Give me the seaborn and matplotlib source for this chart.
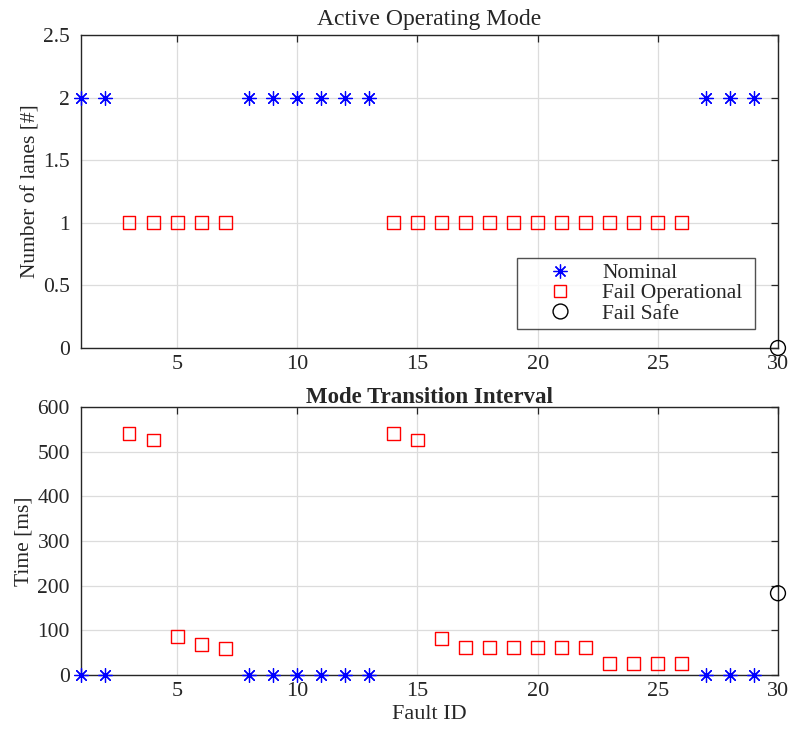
import matplotlib
matplotlib.use("Agg")
import matplotlib.pyplot as plt
from matplotlib.lines import Line2D
import seaborn as sns
import pandas as pd

# Fault IDs grouped by the operating mode reached after each fault
nominal_ids = [1, 2, 8, 9, 10, 11, 12, 13, 27, 28, 29]
failop_ids = [3, 4, 5, 6, 7, 14, 15, 16, 17, 18, 19, 20, 21, 22, 23, 24, 25, 26]
failsafe_ids = [30]

# Number of active lanes per mode
nominal_lanes = [2] * len(nominal_ids)
failop_lanes = [1] * len(failop_ids)
failsafe_lanes = [0]

# Mode transition interval [ms]
nominal_time = [0] * len(nominal_ids)
failop_time = [541, 526, 87, 68, 59, 541, 526, 82, 61, 61, 61, 61, 61, 61, 25, 25, 25, 25]
failsafe_time = [183]

legend_labels = ["Nominal", "Fail Operational", "Fail Safe"]

sns.set_style("white")
plt.rcParams["font.family"] = ["Liberation Serif", "DejaVu Serif"]
plt.rcParams["font.size"] = 15

fig = plt.figure(figsize=(7.92, 7.36), dpi=100)
ax1 = fig.add_axes([0.1023, 0.5272, 0.880, 0.4253])
ax2 = fig.add_axes([0.1023, 0.0829, 0.880, 0.3641])

ast = (8, 2, 0)
BLUE = "#0000ff"
RED = "#ff0000"


def draw(ax, yn, yf, ys):
    d_n = pd.DataFrame({"id": nominal_ids, "v": yn})
    d_f = pd.DataFrame({"id": failop_ids, "v": yf})
    d_s = pd.DataFrame({"id": failsafe_ids, "v": ys})
    sns.scatterplot(data=d_n, x="id", y="v", ax=ax, marker=ast, color=BLUE,
                    s=100, linewidth=0.9, clip_on=False, zorder=5, legend=False)
    sns.scatterplot(data=d_f, x="id", y="v", ax=ax, marker="s", facecolor="none",
                    edgecolor=RED, s=85, linewidth=1.0, clip_on=False,
                    zorder=5, legend=False)
    sns.scatterplot(data=d_s, x="id", y="v", ax=ax, marker="o", facecolor="none",
                    edgecolor="black", s=115, linewidth=1.0, clip_on=False,
                    zorder=5, legend=False)
    ax.set_xlim(1, 30)
    ax.set_xticks([5, 10, 15, 20, 25, 30])
    ax.grid(True, color="#dcdcdc", linewidth=0.9)
    ax.tick_params(direction="in", length=5, width=0.9, top=True, right=True,
                   labelsize=16, colors="#262626")
    ax.tick_params(axis="x", pad=5)
    ax.tick_params(axis="y", pad=8, labelsize=15.5)
    for sp in ax.spines.values():
        sp.set_visible(True)
        sp.set_color("#262626")
        sp.set_linewidth(1.0)
    ax.set_axisbelow(True)


draw(ax1, nominal_lanes, failop_lanes, failsafe_lanes)
ax1.set_ylim(0, 2.5)
ax1.set_yticks([0, 0.5, 1, 1.5, 2, 2.5])
ax1.set_yticklabels(["0", "0.5", "1", "1.5", "2", "2.5"])
ax1.set_xlabel("")
ax1.set_ylabel("Number of lanes [#]", fontsize=15.5, labelpad=2)
ax1.set_title("Active Operating Mode", fontsize=17, pad=7)

draw(ax2, nominal_time, failop_time, failsafe_time)
ax2.set_ylim(0, 600)
ax2.set_yticks([0, 100, 200, 300, 400, 500, 600])
ax2.set_xlabel("Fault ID", fontsize=16, labelpad=3)
ax2.set_ylabel("Time [ms]", fontsize=15.5, labelpad=3)
ax2.set_title("Mode Transition Interval", fontsize=16.5, fontweight="bold", pad=3)

handles = [
    Line2D([], [], linestyle="none", marker=ast, color=BLUE, markersize=10,
           markeredgewidth=0.9),
    Line2D([], [], linestyle="none", marker="s", markerfacecolor="none",
           markeredgecolor=RED, markersize=9.2, markeredgewidth=1.0),
    Line2D([], [], linestyle="none", marker="o", markerfacecolor="none",
           markeredgecolor="black", markersize=10.7, markeredgewidth=1.0),
]
leg = ax1.legend(handles, legend_labels,
                 loc="lower left", bbox_to_anchor=(0.6255, 0.061, 0.3415, 0.2),
                 mode="expand", frameon=True, fancybox=False, edgecolor="#262626",
                 fontsize=15.5, handlelength=3.5, handletextpad=0.2,
                 borderpad=0.25, labelspacing=0.0, borderaxespad=0)
leg.get_frame().set_linewidth(1.0)

fig.savefig("out.png", dpi=100)
